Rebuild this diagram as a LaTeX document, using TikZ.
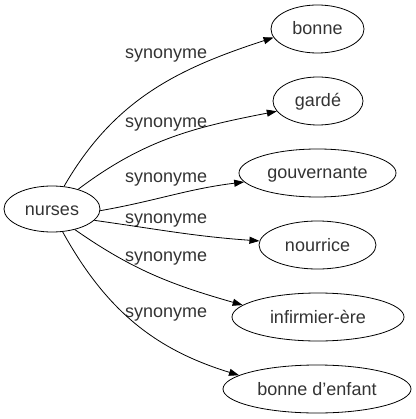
\documentclass[tikz,border=0pt]{standalone}
\usepackage{fontspec}
\setmainfont{Liberation Sans}
\usetikzlibrary{shapes.geometric,arrows.meta}
\begin{document}
\begin{tikzpicture}[x=1pt,y=1pt,
  every node/.style={font=\fontsize{18}{21}\selectfont, text=black!80},
  word/.style={ellipse, draw=black, line width=0.8pt, inner sep=0pt, minimum height=48pt, text height=14pt, text depth=2pt},
  lab/.style={anchor=base west, inner sep=0pt},
  rel/.style={draw=black, line width=0.8pt, -{Triangle[length=10pt,width=7pt]}}]
\useasboundingbox (0,0) rectangle (415,-419);
\node[word, minimum width=96pt, minimum height=46pt] (nurses) at (52,-209) {nurses};
\node[word, minimum width=93pt] (bonne) at (317.5,-29) {bonne};
\node[word, minimum width=90pt] (garde) at (318,-101) {gardé};
\node[word, minimum width=157pt] (gouv) at (317.5,-173) {gouvernante};
\node[word, minimum width=117pt] (nourrice) at (317.5,-245) {nourrice};
\node[word, minimum width=172pt] (infirm) at (318,-317) {infirmier-ère};
\node[word, minimum width=188pt] (enfant) at (317,-389) {bonne d'enfant};
\node[lab] (l1) at (125,-59) {synonyme};
\node[lab] (l2) at (125,-128) {synonyme};
\node[lab] (l3) at (125,-183) {synonyme};
\node[lab] (l4) at (125,-223) {synonyme};
\node[lab] (l5) at (125,-261) {synonyme};
\node[lab] (l6) at (125,-317) {synonyme};
\draw[rel] (nurses.62) to[out=60,in=198] (bonne.191);
\draw[rel] (nurses.37) to[out=37,in=191] (garde.194);
\draw[rel] (nurses.358) to[out=10,in=187] (gouv.187);
\draw[rel] (nurses.345) to[out=-8,in=176] (nourrice.176);
\draw[rel] (nurses.318) to[out=-35,in=164] (infirm.171);
\draw[rel] (nurses.295) to[out=-61,in=163] (enfant.170);
\end{tikzpicture}
\end{document}
